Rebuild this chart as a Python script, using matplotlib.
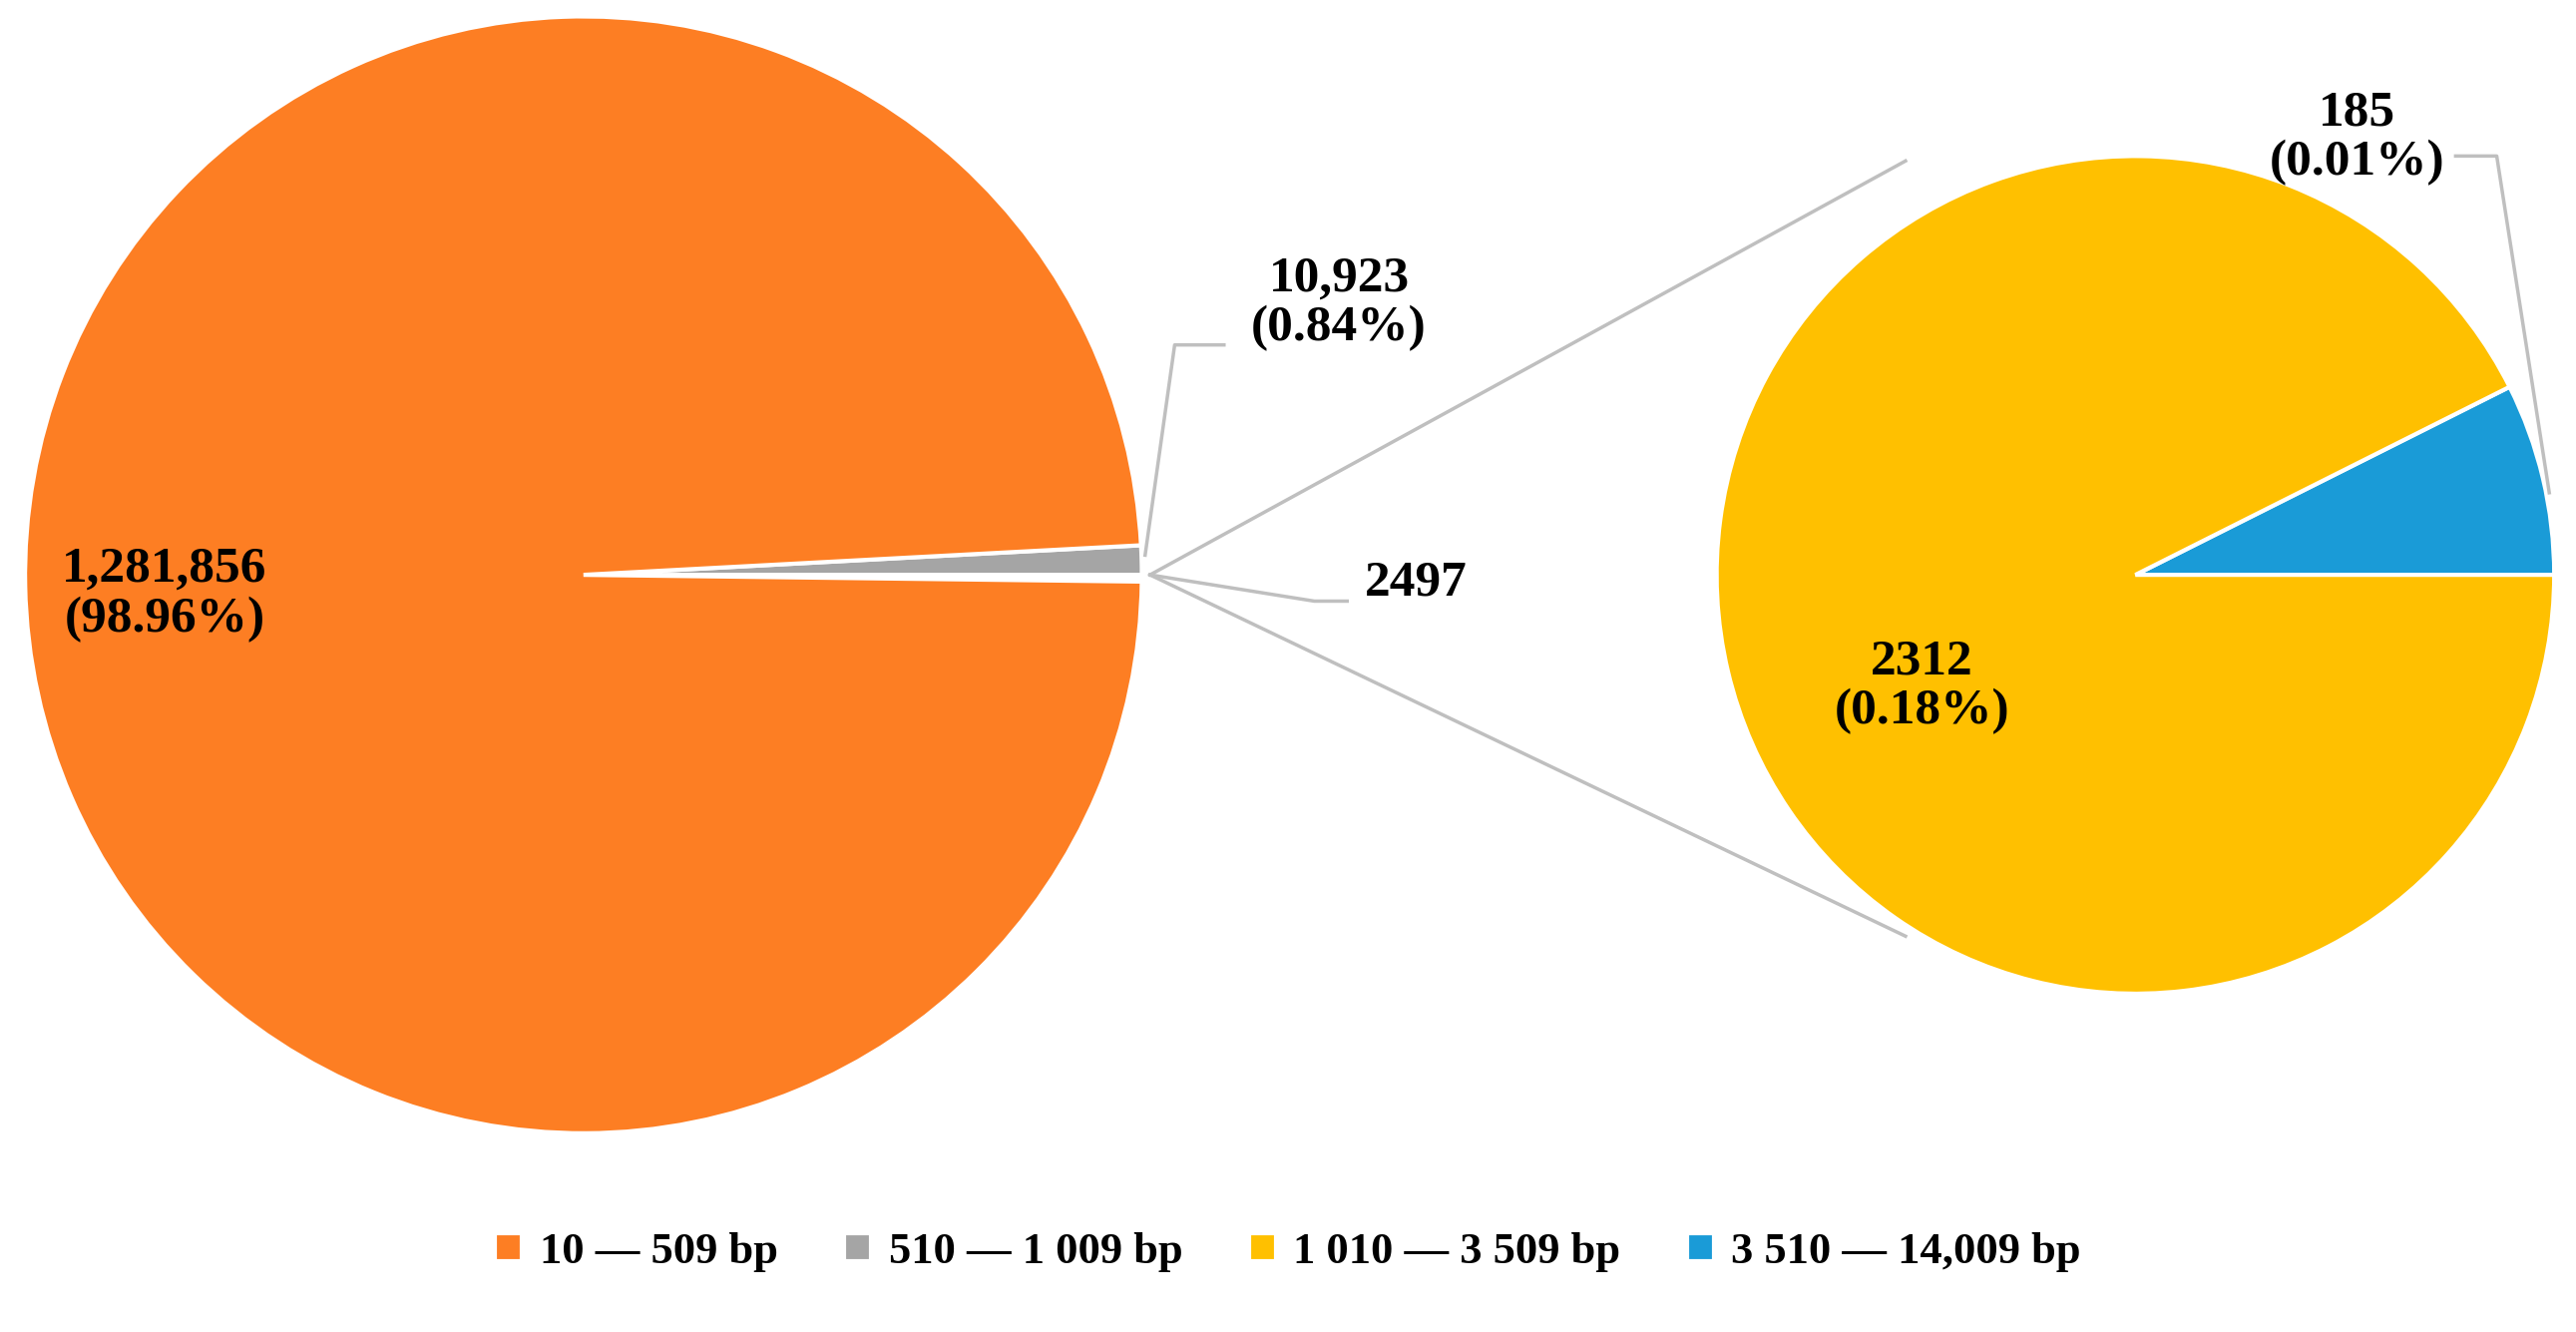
import matplotlib.pyplot as plt

# Data
counts_main = [2497, 10923, 1281856]          # other (expanded), 510-1009, 10-509
counts_sub = [185, 2312]                       # 3510-14009, 1010-3509
legend_labels = ['10 — 509 bp', '510 — 1 009 bp', '1 010 — 3 509 bp', '3 510 — 14,009 bp']

ORANGE = '#FD7E23'
GRAY = '#A5A5A5'
YELLOW = '#FFC000'
BLUE = '#1A9BD7'

plt.rcParams['font.family'] = ['Liberation Serif', 'DejaVu Serif']
plt.rcParams['font.weight'] = 'bold'

fig = plt.figure(figsize=(25.82, 13.35), dpi=100)
ax = fig.add_axes([0, 0, 1, 1])
ax.set_xlim(0, 1568)
ax.set_ylim(0, 811)
ax.set_aspect('equal')
ax.axis('off')

H = 811
def Y(y):
    return H - y

total = sum(counts_main)
start = -360 * counts_main[0] / total
w_main, _ = ax.pie(counts_main, center=(355, Y(350)), radius=340, startangle=start,
                   colors=['white', GRAY, ORANGE], counterclock=True,
                   wedgeprops=dict(edgecolor='white', linewidth=3), frame=True)
w_sub, _ = ax.pie(counts_sub, center=(1300, Y(350)), radius=255, startangle=0,
                  colors=[BLUE, YELLOW], counterclock=True,
                  wedgeprops=dict(edgecolor='white', linewidth=3), frame=True)
ax.set_xlim(0, 1568)
ax.set_ylim(0, 811)
ax.axis('off')

lc = '#BFBFBF'
# connector lines
ax.plot([700, 1160], [Y(350), Y(98)], color=lc, lw=2.5)
ax.plot([700, 1160], [Y(350), Y(570)], color=lc, lw=2.5)
# leaders
ax.plot([700, 800, 820], [Y(350), Y(366), Y(366)], color=lc, lw=2.5)
ax.plot([697, 715, 745], [Y(338), Y(210), Y(210)], color=lc, lw=2.5)
ax.plot([1552, 1520, 1495], [Y(300), Y(95), Y(95)], color=lc, lw=2.5)

fs = 37
kw = dict(fontsize=fs, fontweight='bold', ha='center', va='center', linespacing=1.1)
ax.text(100, Y(362), '1,281,856\n(98.96%)', **kw)
ax.text(815, Y(185), '10,923\n(0.84%)', **kw)
ax.text(862, Y(355), '2497', **kw)
ax.text(1435, Y(84), '185\n(0.01%)', **kw)
ax.text(1170, Y(418), '2312\n(0.18%)', **kw)

handles = [w_main[2], w_main[1], w_sub[1], w_sub[0]]
fig.legend(handles, legend_labels, loc='lower center', bbox_to_anchor=(0.5, 0.015),
           ncol=4, frameon=False, fontsize=32, handlelength=0.6, handleheight=0.6,
           columnspacing=1.5, handletextpad=0.4)

fig.savefig('out.png', dpi=100)
